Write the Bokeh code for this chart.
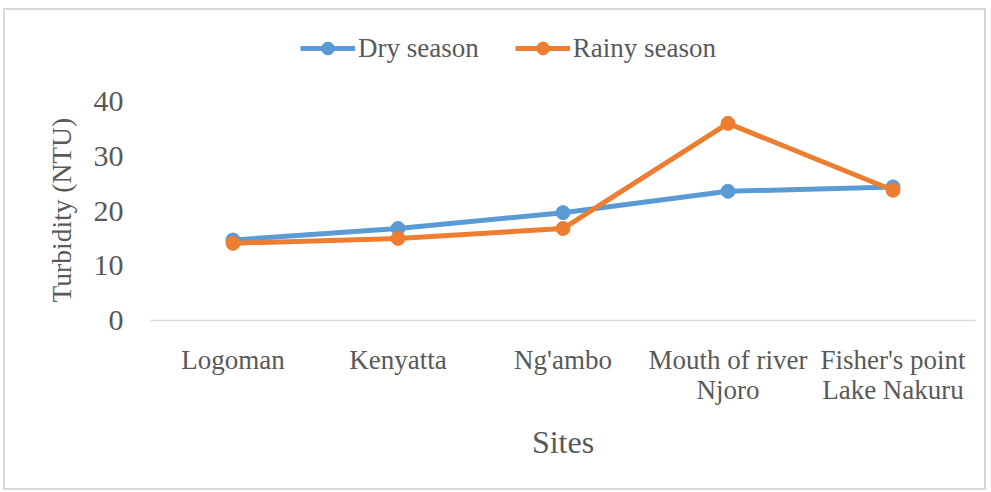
from bokeh.plotting import figure
from bokeh.models import ColumnDataSource, FactorRange, Legend, LegendItem, Range1d, FixedTicker, Title
from bokeh.embed import file_html
from bokeh.resources import INLINE

sites = ["Logoman", "Kenyatta", "Ng'ambo", "Mouth of river\nNjoro", "Fisher's point\nLake Nakuru"]
dry_season = [14.7, 16.8, 19.7, 23.6, 24.4]
rainy_season = [14.1, 15.0, 16.8, 36.0, 23.8]
y_ticks = [0, 10, 20, 30, 40]

FONT = "Liberation Serif"
GRAY = "#595959"
BLUE = "#5B9BD5"
ORANGE = "#ED7D31"

# the (invisible) plot frame is extended upward so the legend sits inside it;
# only ticks 0..40 are shown
Y_VIEW_TOP = 56.26

src = ColumnDataSource(dict(site=sites, dry=dry_season, rainy=rainy_season))

p = figure(width=983, height=482, x_range=FactorRange(factors=sites),
           y_range=Range1d(0, Y_VIEW_TOP), output_backend="svg", toolbar_location=None,
           min_border_left=145, min_border_right=13, min_border_top=2, min_border_bottom=172)
p.styles = {"border": "2px solid #d9d9d9", "margin-top": "8px", "margin-left": "3px"}
p.outline_line_color = None
p.grid.visible = False
p.background_fill_color = "white"

l1 = p.line("site", "dry", source=src, line_color=BLUE, line_width=5)
s1 = p.scatter("site", "dry", source=src, size=14, fill_color=BLUE, line_color=BLUE)
l2 = p.line("site", "rainy", source=src, line_color=ORANGE, line_width=5)
s2 = p.scatter("site", "rainy", source=src, size=14, fill_color=ORANGE, line_color=ORANGE)

# x axis
xa = p.xaxis[0]
xa.axis_line_color = "#d9d9d9"
xa.axis_line_width = 1.5
xa.major_tick_line_color = None
xa.minor_tick_line_color = None
xa.major_label_text_font = FONT
xa.major_label_text_font_size = "27px"
xa.major_label_text_line_height = 1.03
xa.major_label_text_color = GRAY
xa.major_label_standoff = 18
xa.axis_label = "Sites"
xa.axis_label_text_font = FONT
xa.axis_label_text_font_size = "32px"
xa.axis_label_text_font_style = "normal"
xa.axis_label_text_color = GRAY
xa.axis_label_standoff = 16

# y axis
ya = p.yaxis[0]
ya.ticker = FixedTicker(ticks=y_ticks)
ya.axis_line_color = None
ya.major_tick_line_color = None
ya.minor_tick_line_color = None
ya.major_label_text_font = FONT
ya.major_label_text_font_size = "30px"
ya.major_label_text_color = GRAY
ya.major_label_standoff = 21

ytitle = Title(text="Turbidity (NTU)", align="left", offset=18,
               text_font=FONT, text_font_size="27.5px", text_font_style="normal",
               text_color=GRAY, standoff=27)
p.add_layout(ytitle, "left")

legend = Legend(items=[LegendItem(label="Dry season", renderers=[l1, s1]),
                       LegendItem(label="Rainy season", renderers=[l2, s2])],
                orientation="horizontal", location=(150, 256),
                label_text_font=FONT, label_text_font_size="27px", label_text_color=GRAY,
                glyph_width=55, glyph_height=32, label_standoff=3, spacing=36,
                padding=0, margin=0, border_line_color=None, background_fill_alpha=0)
p.add_layout(legend, "center")

open("out.html", "w").write(file_html(p, INLINE))
